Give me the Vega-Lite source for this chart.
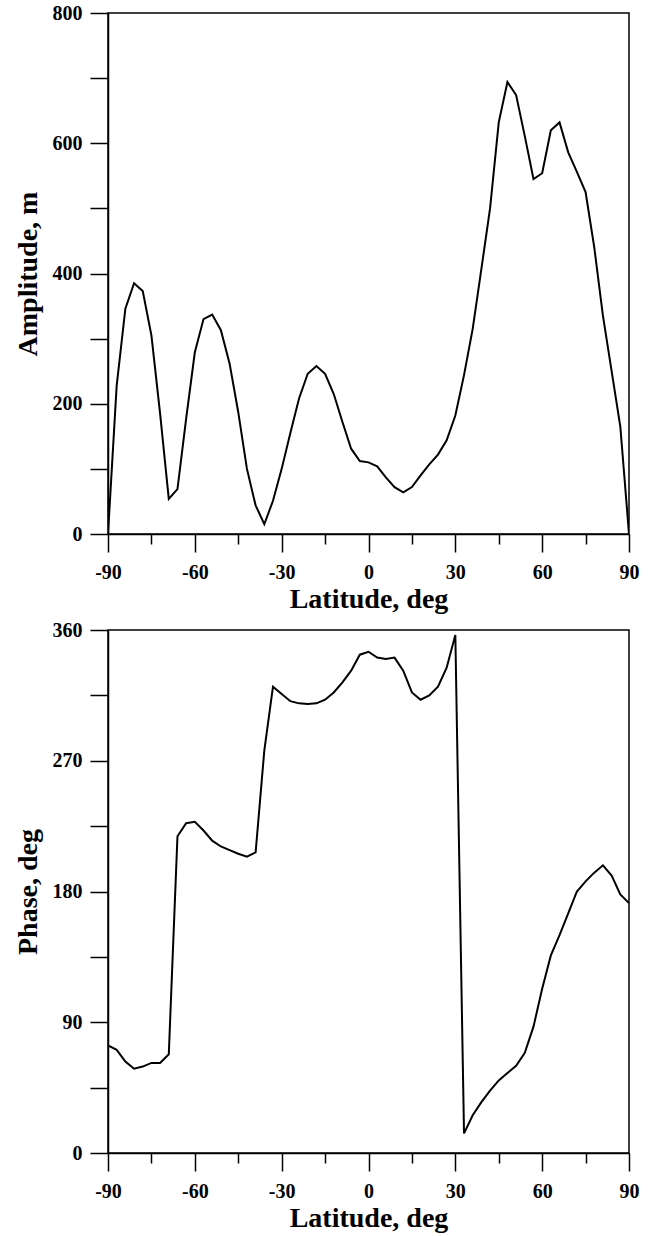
{
  "$schema": "https://vega.github.io/schema/vega-lite/v6.json",
  "padding": {"left": 13, "top": 2, "right": 5, "bottom": 5},
  "background": "white",
  "bounds": "flush",
  "spacing": 96,
  "config": {
    "font": "Liberation Serif",
    "view": {"stroke": "black", "strokeWidth": 1.5},
    "axis": {
      "domainColor": "black",
      "domainWidth": 1.5,
      "tickColor": "black",
      "tickWidth": 1.5,
      "grid": false,
      "labelFont": "Liberation Serif",
      "labelFontWeight": "bold",
      "labelFontSize": 20,
      "labelColor": "black",
      "titleFont": "Liberation Serif",
      "titleFontWeight": "bold",
      "titleFontSize": 28,
      "titleColor": "black",
      "labelOverlap": false,
      "labelFlush": false
    }
  },
  "datasets": {
    "amp": [
      {"lat": -90, "amp": 0}, {"lat": -87, "amp": 228}, {"lat": -84, "amp": 346}, {"lat": -81, "amp": 385},
      {"lat": -78, "amp": 373}, {"lat": -75, "amp": 305}, {"lat": -72, "amp": 185}, {"lat": -69, "amp": 54},
      {"lat": -66, "amp": 69}, {"lat": -63, "amp": 177}, {"lat": -60, "amp": 279}, {"lat": -57, "amp": 330},
      {"lat": -54, "amp": 337}, {"lat": -51, "amp": 313}, {"lat": -48, "amp": 262}, {"lat": -45, "amp": 187},
      {"lat": -42, "amp": 100}, {"lat": -39, "amp": 44}, {"lat": -36, "amp": 15}, {"lat": -33, "amp": 51},
      {"lat": -30, "amp": 100}, {"lat": -27, "amp": 155}, {"lat": -24, "amp": 208}, {"lat": -21, "amp": 246},
      {"lat": -18, "amp": 258}, {"lat": -15, "amp": 246}, {"lat": -12, "amp": 215}, {"lat": -9, "amp": 172},
      {"lat": -6, "amp": 131}, {"lat": -3, "amp": 112}, {"lat": 0, "amp": 110}, {"lat": 3, "amp": 104},
      {"lat": 6, "amp": 87}, {"lat": 9, "amp": 72}, {"lat": 12, "amp": 64}, {"lat": 15, "amp": 72},
      {"lat": 18, "amp": 90}, {"lat": 21, "amp": 107}, {"lat": 24, "amp": 122}, {"lat": 27, "amp": 144},
      {"lat": 30, "amp": 182}, {"lat": 33, "amp": 244}, {"lat": 36, "amp": 315}, {"lat": 39, "amp": 407},
      {"lat": 42, "amp": 500}, {"lat": 45, "amp": 632}, {"lat": 48, "amp": 694}, {"lat": 51, "amp": 674},
      {"lat": 54, "amp": 611}, {"lat": 57, "amp": 545}, {"lat": 60, "amp": 554}, {"lat": 63, "amp": 620},
      {"lat": 66, "amp": 632}, {"lat": 69, "amp": 586}, {"lat": 72, "amp": 556}, {"lat": 75, "amp": 525},
      {"lat": 78, "amp": 440}, {"lat": 81, "amp": 335}, {"lat": 84, "amp": 250}, {"lat": 87, "amp": 165},
      {"lat": 90, "amp": 0}
    ],
    "phase": [
      {"lat": -90, "phase": 74}, {"lat": -87, "phase": 71}, {"lat": -84, "phase": 63}, {"lat": -81, "phase": 58},
      {"lat": -78, "phase": 59.5}, {"lat": -75, "phase": 62}, {"lat": -72, "phase": 62}, {"lat": -69, "phase": 68},
      {"lat": -66, "phase": 218}, {"lat": -63, "phase": 227}, {"lat": -60, "phase": 228}, {"lat": -57, "phase": 222},
      {"lat": -54, "phase": 215}, {"lat": -51, "phase": 211}, {"lat": -48, "phase": 208.5}, {"lat": -45, "phase": 206},
      {"lat": -42, "phase": 204}, {"lat": -39, "phase": 207}, {"lat": -36, "phase": 277}, {"lat": -33, "phase": 321},
      {"lat": -30, "phase": 316}, {"lat": -27, "phase": 311}, {"lat": -24, "phase": 309.5}, {"lat": -21, "phase": 309},
      {"lat": -18, "phase": 309.5}, {"lat": -15, "phase": 312}, {"lat": -12, "phase": 317}, {"lat": -9, "phase": 324},
      {"lat": -6, "phase": 332}, {"lat": -3, "phase": 343}, {"lat": 0, "phase": 345}, {"lat": 3, "phase": 341},
      {"lat": 6, "phase": 340}, {"lat": 9, "phase": 341}, {"lat": 12, "phase": 332}, {"lat": 15, "phase": 317},
      {"lat": 18, "phase": 312}, {"lat": 21, "phase": 315}, {"lat": 24, "phase": 321}, {"lat": 27, "phase": 334},
      {"lat": 30, "phase": 356.5}, {"lat": 33, "phase": 13.5}, {"lat": 36, "phase": 26}, {"lat": 39, "phase": 35},
      {"lat": 42, "phase": 43}, {"lat": 45, "phase": 50}, {"lat": 48, "phase": 55}, {"lat": 51, "phase": 60},
      {"lat": 54, "phase": 69}, {"lat": 57, "phase": 87}, {"lat": 60, "phase": 113}, {"lat": 63, "phase": 136},
      {"lat": 66, "phase": 150}, {"lat": 69, "phase": 165}, {"lat": 72, "phase": 180}, {"lat": 75, "phase": 187},
      {"lat": 78, "phase": 193}, {"lat": 81, "phase": 198}, {"lat": 84, "phase": 191}, {"lat": 87, "phase": 178},
      {"lat": 90, "phase": 172}
    ]
  },
  "vconcat": [
    {
      "width": 521,
      "height": 521,
      "data": {"name": "amp"},
      "mark": {"type": "line", "color": "black", "strokeWidth": 2, "clip": true},
      "encoding": {
        "x": {
          "field": "lat", "type": "quantitative",
          "scale": {"domain": [-90, 90], "nice": false, "zero": false},
          "axis": {
            "title": "Latitude, deg",
            "values": [-90, -75, -60, -45, -30, -15, 0, 15, 30, 45, 60, 75, 90],
            "labelExpr": "datum.value % 30 === 0 ? '' + datum.value : ''",
            "tickSize": {"condition": {"test": "datum.value % 30 === 0", "value": 18}, "value": 10},
            "labelPadding": 10,
            "titlePadding": 3
          }
        },
        "y": {
          "field": "amp", "type": "quantitative",
          "scale": {"domain": [0, 800], "nice": false},
          "axis": {
            "title": "Amplitude, m",
            "values": [0, 100, 200, 300, 400, 500, 600, 700, 800],
            "labelExpr": "datum.value % 200 === 0 ? '' + datum.value : ''",
            "tickSize": 18,
            "labelPadding": 8,
            "titlePadding": 10
          }
        }
      }
    },
    {
      "width": 521,
      "height": 523,
      "data": {"name": "phase"},
      "mark": {"type": "line", "color": "black", "strokeWidth": 2, "clip": true},
      "encoding": {
        "x": {
          "field": "lat", "type": "quantitative",
          "scale": {"domain": [-90, 90], "nice": false, "zero": false},
          "axis": {
            "title": "Latitude, deg",
            "values": [-90, -75, -60, -45, -30, -15, 0, 15, 30, 45, 60, 75, 90],
            "labelExpr": "datum.value % 30 === 0 ? '' + datum.value : ''",
            "tickSize": {"condition": {"test": "datum.value % 30 === 0", "value": 18}, "value": 10},
            "labelPadding": 10,
            "titlePadding": 3
          }
        },
        "y": {
          "field": "phase", "type": "quantitative",
          "scale": {"domain": [0, 360], "nice": false},
          "axis": {
            "title": "Phase, deg",
            "values": [0, 45, 90, 135, 180, 225, 270, 315, 360],
            "labelExpr": "datum.value % 90 === 0 ? '' + datum.value : ''",
            "tickSize": 18,
            "labelPadding": 8,
            "titlePadding": 10
          }
        }
      }
    }
  ]
}
